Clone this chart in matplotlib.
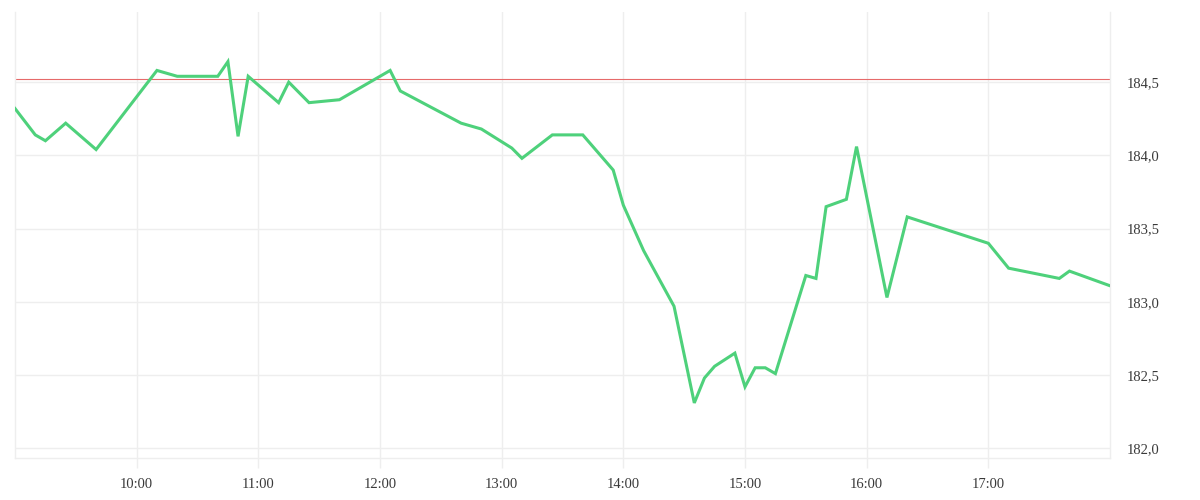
import matplotlib
matplotlib.use("Agg")
import matplotlib.pyplot as plt
import matplotlib.dates as mdates
from matplotlib.ticker import FuncFormatter
import pandas as pd

times = ["09:00", "09:10", "09:15", "09:25", "09:40", "10:10", "10:20", "10:40",
         "10:45", "10:50", "10:55", "11:10", "11:15", "11:25", "11:40", "12:05",
         "12:10", "12:40", "12:50", "13:05", "13:10", "13:25", "13:40", "13:55",
         "14:00", "14:10", "14:25", "14:35", "14:40", "14:45", "14:55", "15:00",
         "15:05", "15:10", "15:15", "15:30", "15:35", "15:40", "15:50", "15:55",
         "16:10", "16:20", "17:00", "17:10", "17:35", "17:40", "18:00"]
prices = [184.32, 184.14, 184.10, 184.22, 184.04, 184.58, 184.54, 184.54,
          184.64, 184.13, 184.54, 184.36, 184.50, 184.36, 184.38, 184.58,
          184.44, 184.22, 184.18, 184.05, 183.98, 184.14, 184.14, 183.90,
          183.66, 183.35, 182.97, 182.31, 182.48, 182.56, 182.65, 182.42,
          182.55, 182.55, 182.51, 183.18, 183.16, 183.65, 183.70, 184.06,
          183.03, 183.58, 183.40, 183.23, 183.16, 183.21, 183.11]
ref_level = 184.52
tick_hours = ["10:00", "11:00", "12:00", "13:00", "14:00", "15:00", "16:00", "17:00"]
y_ticks = [182.0, 182.5, 183.0, 183.5, 184.0, 184.5]

day = "2024-01-02 "
t = pd.to_datetime([day + s for s in times])
xt = pd.to_datetime([day + s for s in tick_hours])

plt.rcParams['font.family'] = ['Liberation Serif', 'DejaVu Serif']

fig = plt.figure(figsize=(12, 5), dpi=100)
ax = fig.add_axes([15/1200, 42/500, 1095/1200, 446/500])

grid_c = "#eeeeee"
ax.plot(t, prices, color="#4ed17b", lw=2.2, solid_joinstyle="miter", zorder=3)
ax.axhline(ref_level, color="#e66a6a", lw=0.8, zorder=2)

ax.set_xlim(pd.Timestamp(day + "09:00"), pd.Timestamp(day + "18:00"))
ax.set_ylim(181.934, 184.979)

ax.set_xticks(xt)
ax.xaxis.set_major_formatter(mdates.DateFormatter("%H:%M"))
ax.set_yticks(y_ticks)
ax.yaxis.set_major_formatter(FuncFormatter(lambda v, p: f"{v:.1f}".replace(".", ",")))
ax.yaxis.tick_right()

ax.grid(True, color=grid_c, lw=1, zorder=0)
ax.spines["top"].set_visible(False)
for s in ["left", "right", "bottom"]:
    ax.spines[s].set_color(grid_c)
    ax.spines[s].set_linewidth(1)

ax.tick_params(axis="x", length=7.2, width=1, color=grid_c, pad=7,
               labelsize=10.5, labelcolor="#3a3a3a")
ax.tick_params(axis="y", length=0, pad=12, labelsize=10.5, labelcolor="#3a3a3a")

fig.savefig("out.png", dpi=100, facecolor="white")
